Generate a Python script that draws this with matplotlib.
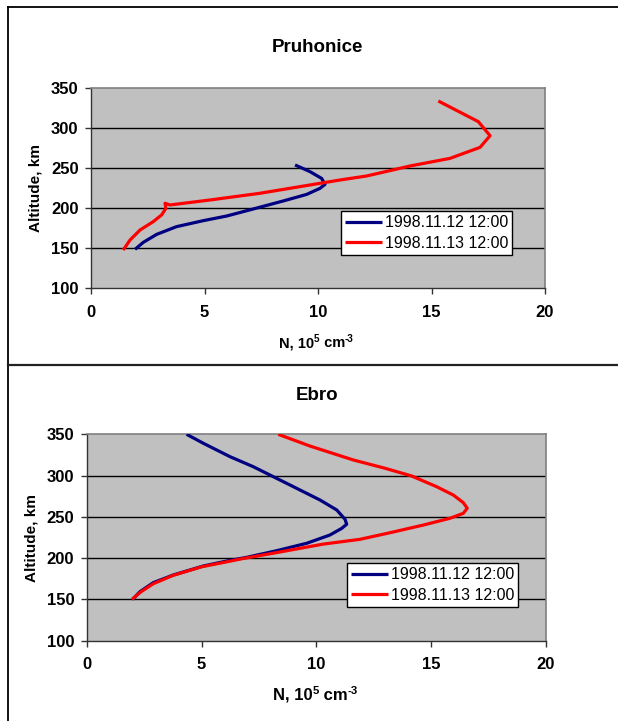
import matplotlib
matplotlib.use("Agg")
import matplotlib.pyplot as plt
from matplotlib.lines import Line2D

plt.rcParams['font.family'] = ['Liberation Sans', 'DejaVu Sans']

# ---- data ----
labels = ["1998.11.12 12:00", "1998.11.13 12:00"]

pru_blue_N = [1.94, 2.30, 2.89, 3.77, 4.95, 5.98, 7.15, 8.47, 9.50, 10.09, 10.31, 10.16, 9.65, 8.99]
pru_blue_h = [148.3, 157, 167, 176.7, 184.2, 190, 198.8, 208.8, 217, 224.6, 229.6, 237, 245.4, 253.8]

pru_red_N = [1.42, 1.72, 2.16, 2.74, 3.11, 3.30, 3.26, 3.48, 5.24, 7.44, 9.65, 10.97, 12.14, 14.05, 15.81, 17.14, 17.58, 17.06, 15.30]
pru_red_h = [147.5, 160, 172.5, 182.9, 191.3, 199.6, 205.9, 203.8, 210, 218.4, 228.8, 235, 240, 252.5, 262, 275.8, 290.4, 308, 333.75]

ebro_blue_N = [2.00, 2.32, 2.90, 3.77, 5.08, 6.10, 6.97, 8.27, 9.58, 10.59, 11.10, 11.32, 11.25, 10.89, 10.16, 9.14, 8.13, 7.25, 6.24, 5.08, 4.35]
ebro_blue_h = [150.1, 159.4, 170.3, 179.6, 190.5, 196.5, 201, 209, 218, 228, 236, 241, 247, 258.3, 270.4, 284.6, 298.6, 310.8, 322.9, 339.1, 350]

ebro_red_N = [1.97, 2.35, 2.9, 3.75, 5.0, 6.0, 6.8, 8.13, 10.3, 11.90, 13.21, 14.66, 15.82, 16.40, 16.57, 16.40, 15.96, 15.24, 14.15, 13.0, 11.61, 9.72, 8.34]
ebro_red_h = [150, 159, 169, 179, 189.5, 195, 199.5, 206, 217, 222.8, 230.8, 240.1, 248.3, 254.3, 260.4, 267.2, 276.5, 286.5, 299.5, 308.8, 318.9, 335.8, 350]

xticks = [0, 5, 10, 15, 20]
yticks = [100, 150, 200, 250, 300, 350]

W, H = 618, 721
fig = plt.figure(figsize=(W / 100, H / 100), dpi=100)
fig.patch.set_facecolor('white')

def fx(px):
    return px / W

def fy(py):
    return 1 - py / H

# frame lines
fig.add_artist(Line2D([fx(7.5), fx(7.5)], [fy(7), 0], color='black', lw=1.3))
fig.add_artist(Line2D([fx(7.5), 1], [fy(7), fy(7)], color='black', lw=1.3))
fig.add_artist(Line2D([fx(7.5), 1], [fy(364.5), fy(364.5)], color='#222222', lw=1.6))

def xlabel(ax, left_px, base_px, size):
    yb = H - base_px
    sup = size * 0.68
    up = size * 0.5
    t1 = ax.annotate("N, 10", xy=(left_px, yb), xycoords='figure pixels',
                     ha='left', va='baseline', fontsize=size, fontweight='bold',
                     annotation_clip=False)
    t2 = ax.annotate("5", xy=(1, yb + up), xycoords=(t1, 'figure pixels'),
                     ha='left', va='baseline', fontsize=sup, fontweight='bold',
                     annotation_clip=False)
    t3 = ax.annotate(" cm", xy=(1, yb), xycoords=(t2, 'figure pixels'),
                     ha='left', va='baseline', fontsize=size, fontweight='bold',
                     annotation_clip=False)
    ax.annotate("-3", xy=(1, yb + up), xycoords=(t3, 'figure pixels'),
                ha='left', va='baseline', fontsize=sup, fontweight='bold',
                annotation_clip=False)

def make_panel(rect, title, title_y, xl_left, xl_base, xl_size, ylab_x,
               blueN, blueH, redN, redH, leg_anchor):
    ax = fig.add_axes(rect)
    ax.set_facecolor('#C0C0C0')
    ax.set_xlim(0, 20)
    ax.set_ylim(100, 350)
    ax.set_xticks(xticks)
    ax.set_yticks(yticks)
    for y in yticks[1:-1]:
        ax.axhline(y, color='black', lw=1.0, zorder=1)
    ax.plot(blueN, blueH, color='#000080', lw=2.3, label=labels[0], zorder=3,
            solid_joinstyle='round', solid_capstyle='butt')
    ax.plot(redN, redH, color='#FF0000', lw=2.3, label=labels[1], zorder=3,
            solid_joinstyle='round', solid_capstyle='butt')
    for s in ['top', 'right']:
        ax.spines[s].set_color('#808080')
        ax.spines[s].set_linewidth(1.2)
    for s in ['left', 'bottom']:
        ax.spines[s].set_color('#333333')
        ax.spines[s].set_linewidth(1.0)
    ax.tick_params(direction='out', length=4, width=1, color='#333333',
                   labelsize=12)
    ax.tick_params(axis='x', pad=8)
    ax.tick_params(axis='y', pad=5)
    for t in ax.get_xticklabels() + ax.get_yticklabels():
        t.set_fontweight('bold')
    fig.text(fx(317), fy(title_y), title, ha='center', va='center',
             fontsize=13.5, fontweight='bold')
    xlabel(ax, xl_left, xl_base, xl_size)
    fig.text(fx(ylab_x), (rect[1] + rect[3] / 2), 'Altitude, km', rotation=90,
             ha='center', va='center', fontsize=11, fontweight='bold')
    leg = ax.legend(loc='lower left', bbox_to_anchor=leg_anchor, borderaxespad=0,
                    fancybox=False, framealpha=1, edgecolor='black',
                    fontsize=11.5, handlelength=2.3, handletextpad=0.2,
                    borderpad=0.25, labelspacing=0.35)
    leg.get_frame().set_linewidth(1.0)
    return ax

make_panel([fx(91), fy(288), fx(545) - fx(91), fy(88) - fy(288)], 'Pruhonice', 48,
           279, 347, 10.5, 35,
           pru_blue_N, pru_blue_h, pru_red_N, pru_red_h, (0.551, 0.165))
make_panel([fx(86.7), fy(640.7), fx(546) - fx(86.7), fy(434.3) - fy(640.7)], 'Ebro', 395,
           273, 699.5, 12, 31.5,
           ebro_blue_N, ebro_blue_h, ebro_red_N, ebro_red_h, (0.567, 0.163))

fig.savefig('out.png', dpi=100)
